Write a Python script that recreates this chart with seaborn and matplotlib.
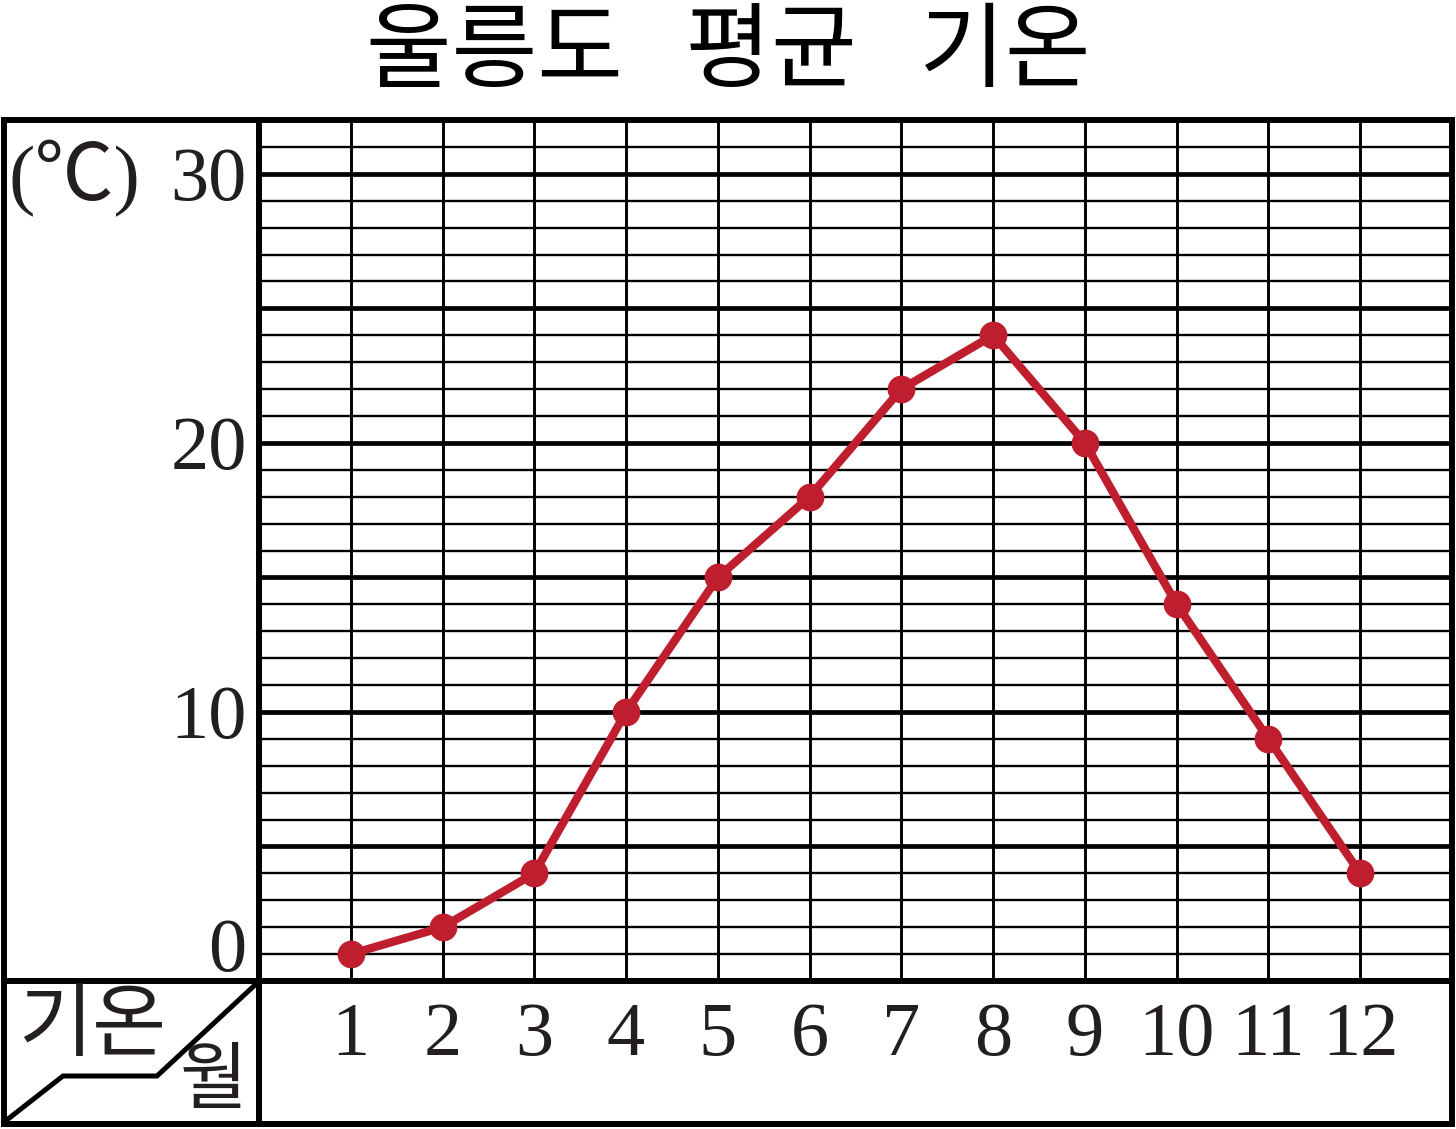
import numpy as np
import pandas as pd
import matplotlib.pyplot as plt
import seaborn as sns
from matplotlib.transforms import ScaledTranslation

# Chart data
months = [1, 2, 3, 4, 5, 6, 7, 8, 9, 10, 11, 12]
temps = [1, 2, 4, 10, 15, 18, 22, 24, 20, 14, 9, 4]
y_ticks = [0, 5, 10, 15, 20, 25, 30]
y_labels = ['0', '', '10', '', '20', '', '30']
title_text = '울릉도   평균   기온'
unit_text = '(℃)'
row_head = '기온'
col_head = '월'

sns.set_style('white')
plt.rcParams['font.family'] = ['Liberation Serif', 'Noto Sans CJK KR', 'DejaVu Sans']

RED = '#be1e2d'
INK = '#231f20'
W, H = 1456, 1129

df = pd.DataFrame({'month': months, 'temp': temps})

fig = plt.figure(figsize=(W / 100, H / 100), dpi=100)


def px_box(x0, y0, x1, y1):
    """pixel box (top-left origin) -> figure fraction rect"""
    return [x0 / W, 1 - y1 / H, (x1 - x0) / W, (y1 - y0) / H]


# Plot area (grid paper)
ax = fig.add_axes(px_box(259, 120, 1452, 981))
sns.lineplot(data=df, x='month', y='temp', ax=ax, color=RED, lw=6,
             marker='o', markersize=20, markeredgewidth=0, zorder=3)
ax.set_xlim(0, 13)
ax.set_ylim(0, 32)
ax.set_xticks(months)
ax.set_xticklabels([str(m) for m in months])
ax.set_yticks(y_ticks)
ax.set_yticklabels(y_labels)
ax.set_yticks(range(0, 33), minor=True)
ax.set_axisbelow(True)
ax.grid(axis='y', which='minor', color='black', lw=1.7)
ax.grid(axis='y', which='major', color='black', lw=3.4)
ax.grid(axis='x', which='major', color='black', lw=2.1)
ax.tick_params(which='both', length=0)
ax.tick_params(axis='x', labelsize=55, pad=15, labelcolor=INK)
ax.tick_params(axis='y', labelsize=55, pad=9, labelcolor=INK)
for s in ax.spines.values():
    s.set_visible(False)
ax.set_xlabel('')
ax.set_ylabel('')

# "0" label sits above the bottom line
for lab in ax.get_yticklabels():
    if lab.get_text() == '0':
        lab.set_transform(lab.get_transform() + ScaledTranslation(0, 0.37, fig.dpi_scale_trans))

# Overlay for the table frame and header texts (pixel coords)
ov = fig.add_axes([0, 0, 1, 1], zorder=5)
ov.set_xlim(0, W)
ov.set_ylim(H, 0)
ov.axis('off')
ov.patch.set_alpha(0)

frame = dict(color='black', lw=4.3, solid_capstyle='projecting', solid_joinstyle='miter')
ov.plot([4, 1452, 1452, 4, 4], [120, 120, 1124, 1124, 120], **frame)
ov.plot([259, 259], [120, 1124], **frame)
ov.plot([4, 1452], [981, 981], **frame)
ov.plot([8, 63, 157, 256], [1119, 1076, 1076, 984], color='black', lw=3.6,
        solid_joinstyle='miter')

ov.text(728, 53, title_text, ha='center', va='center', fontsize=67,
        family=['Noto Sans CJK KR'], color='black')
ov.text(8, 179, unit_text, ha='left', va='center', fontsize=57, color=INK)
ov.text(92, 1027, row_head, ha='center', va='center', fontsize=58,
        family=['Noto Sans CJK KR'], color=INK)
ov.text(213, 1082, col_head, ha='center', va='center', fontsize=53,
        family=['Noto Sans CJK KR'], color=INK)

fig.savefig('out.png', dpi=100)
